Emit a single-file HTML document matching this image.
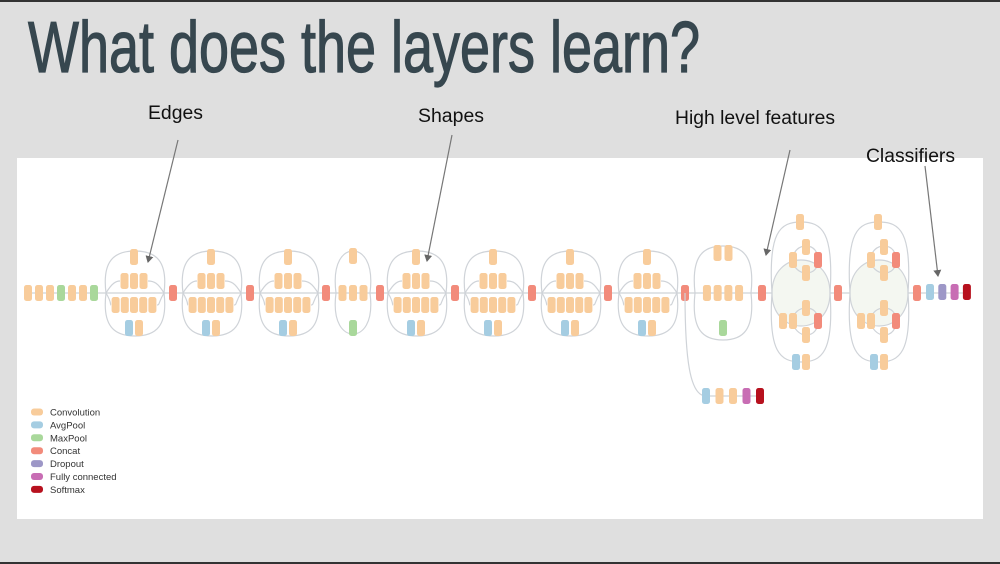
<!DOCTYPE html>
<html><head><meta charset="utf-8">
<style>
html,body{margin:0;padding:0;background:#dfdfdf;}
svg{display:block;}
</style></head>
<body>
<svg id="slide" width="1000" height="564" viewBox="0 0 1000 564" xmlns="http://www.w3.org/2000/svg">
  <rect x="0" y="0" width="1000" height="564" fill="#dfdfdf"/>
  <rect x="0" y="0" width="1000" height="2" fill="#333"/>
  <rect x="0" y="562" width="1000" height="2" fill="#333"/>
  <text x="28" y="72" font-family="'Liberation Sans Narrow','Liberation Sans',sans-serif" font-size="72" fill="#37474f" stroke="#37474f" stroke-width="1.2" textLength="672" lengthAdjust="spacingAndGlyphs">What does the layers learn?</text>
  <rect x="17" y="158" width="966" height="361" fill="#ffffff"/>
  <g id="net"></g>
  <g id="legend"></g>
  <g font-family="'Liberation Sans',sans-serif" font-size="19" fill="#111">
    <text x="148" y="119" textLength="55" lengthAdjust="spacingAndGlyphs">Edges</text>
    <text x="418" y="122" textLength="66" lengthAdjust="spacingAndGlyphs">Shapes</text>
    <text x="675" y="124" textLength="160" lengthAdjust="spacingAndGlyphs">High level features</text>
    <text x="866" y="162" textLength="89" lengthAdjust="spacingAndGlyphs">Classifiers</text>
  </g>
  <defs>
    <marker id="ah" markerWidth="8" markerHeight="8" refX="6" refY="4" orient="auto" markerUnits="userSpaceOnUse">
      <path d="M0,0 L7,4 L0,8 z" fill="#666"/>
    </marker>
  </defs>
  <g stroke="#777" stroke-width="1.2" marker-end="url(#ah)">
    <line x1="178" y1="140" x2="148" y2="262"/>
    <line x1="452" y1="135" x2="427" y2="261"/>
    <line x1="790" y1="150" x2="766" y2="255"/>
    <line x1="925" y1="166" x2="938" y2="276"/>
  </g>
</svg>
<script>
const layerTypes = ["Convolution","AvgPool","MaxPool","Concat","Dropout","Fully connected","Softmax"];
const layerColors = ["#f8cc9b","#a5cde2","#a9d89b","#f28b7b","#9d97c7","#c86db4","#b7111e"];
const stemLayers = ["c","c","c","m","c","c","m"];
const stdModules = [134,211,288,416,493,570,647];
const narrowModules = [353];
const auxModule = [723];
const bigModules = [800,878];
const concats = [173,250,326,380,455,532,608,685,762,838,917];
const auxHead = ["a","c","c","f","s"];
const tailHead = ["a","d","f","s"];
const typeIdx = {c:0,a:1,m:2,k:3,d:4,f:5,s:6};

const NS = "http://www.w3.org/2000/svg";
const net = document.getElementById('net');
const MID = 293, LINE = "#cfd3d8";
function mk(tag, attrs, parent){
  const e = document.createElementNS(NS, tag);
  for (const k in attrs) e.setAttribute(k, attrs[k]);
  (parent||net).appendChild(e); return e;
}
function block(cx, cy, t){
  const e = mk('rect',{x:cx-4,y:cy-8,width:8,height:16,rx:2.5,fill:layerColors[typeIdx[t]]});
  
  
}
function path(d, fill){ return mk('path',{d:d,fill:fill||'none',stroke:LINE,'stroke-width':1.2}); }
function capsule(l, r, t, b){
  const c=(l+r)/2;
  path(`M${l},${MID} C${l-4},${t+10} ${l+8},${t} ${c},${t} C${r-8},${t} ${r+4},${t+10} ${r},${MID} C${r+4},${b-10} ${r-8},${b} ${c},${b} C${l+8},${b} ${l-4},${b-10} ${l},${MID}`);
}

mk('line',{x1:28,y1:MID,x2:966,y2:MID,stroke:LINE,'stroke-width':1.2});

stemLayers.forEach((t,i)=>block(28+i*11, MID, t));

stdModules.forEach(c=>{
  const l=c-28, r=c+30;
  capsule(l, r, 251, 336);
  path(`M${l},${MID} C${l+6},${MID-10} ${l+10},281 ${c-14},281 M${c+14},281 C${r-10},281 ${r-6},${MID-10} ${r},${MID}`);
  path(`M${l},${MID} C${l+6},${MID+10} ${l+4},305 ${c-23},305 M${c+23},305 C${r-4},305 ${r-6},${MID+10} ${r},${MID}`);
  block(c,257,'c');
  [-1,0,1].forEach(k=>block(c+k*9.5,281,'c'));
  [-2,-1,0,1,2].forEach(k=>block(c+k*9.2,305,'c'));
  block(c-5,328,'a'); block(c+5,328,'c');
});

narrowModules.forEach(c=>{
  capsule(c-17, c+17, 251, 334);
  block(c,256,'c');
  [-1,0,1].forEach(k=>block(c+k*10.5,MID,'c'));
  block(c,328,'m');
});

auxModule.forEach(c=>{
  capsule(c-28, c+28, 246, 340);
  block(c-5.5,253,'c'); block(c+5.5,253,'c');
  [-1.5,-0.5,0.5,1.5].forEach(k=>block(c+k*10.7,MID,'c'));
  block(c,328,'m');
});

bigModules.forEach(c=>{
  const l=c-28, r=c+30;
  path(`M${l},${MID} C${l},${MID-44} ${r},${MID-44} ${r},${MID} C${r},${MID+44} ${l},${MID+44} ${l},${MID}`, '#f4f7f1');
  capsule(l, r, 222, 362);
  path(`M${c-7},260 C${c-7},250 ${c},246 ${c+6},246 C${c+14},246 ${c+18},252 ${c+18},260 C${c+18},268 ${c+14},273 ${c+6},273 C${c},273 ${c-7},268 ${c-7},260`);
  path(`M${c-7},321 C${c-7},312 ${c},308 ${c+6},308 C${c+14},308 ${c+18},313 ${c+18},321 C${c+18},329 ${c+14},335 ${c+6},335 C${c},335 ${c-7},329 ${c-7},321`);
  block(c,222,'c');
  block(c+6,247,'c'); block(c-7,260,'c'); block(c+18,260,'k'); block(c+6,273,'c');
  block(c+6,308,'c'); block(c-17,321,'c'); block(c-7,321,'c'); block(c+18,321,'k'); block(c+6,335,'c');
  block(c-4,362,'a'); block(c+6,362,'c');
});

concats.forEach(x=>block(x, MID, 'k'));

path(`M685,${MID} C685,360 690,396 706,396 L760,396`);
auxHead.forEach((t,i)=>block(706+i*13.5,396,t));

tailHead.forEach((t,i)=>block(930+i*12.3,292,t));

const lg = document.getElementById('legend');
layerTypes.forEach((name,i)=>{
  const y = 412 + i*12.9;
  const r = mk('rect',{x:31,y:y-3.5,width:12,height:7,rx:3,fill:layerColors[i]},lg);
  
  
  const t = mk('text',{x:50,y:y+3.5,'font-family':"'Liberation Sans',sans-serif",'font-size':9.5,fill:'#333'},lg);
  t.textContent = name;
  
  
});
</script>
</body></html>
